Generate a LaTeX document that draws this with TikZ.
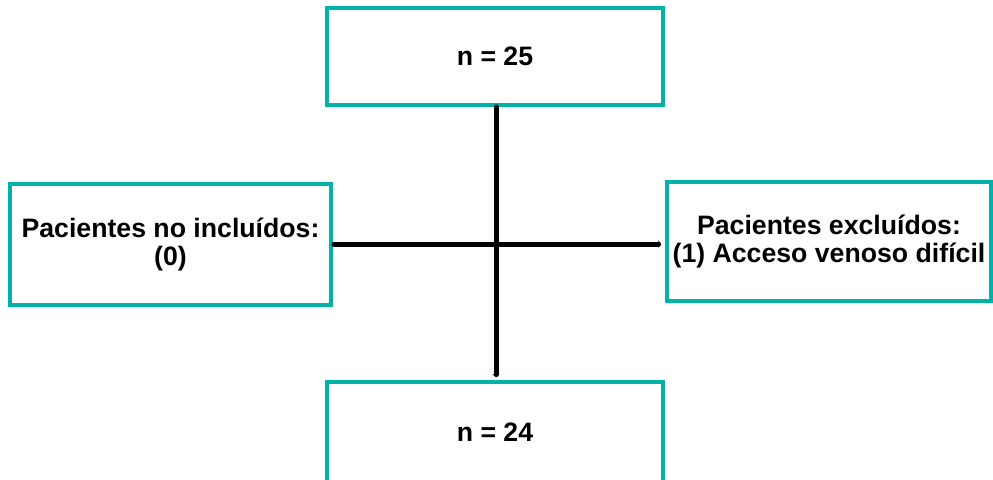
\documentclass[tikz,border=0pt]{standalone}
\usepackage{fontspec}
\setmainfont{Liberation Sans}
\usetikzlibrary{arrows.meta}

\definecolor{tealbox}{RGB}{0,178,169}

\tikzset{
  cajon/.style={draw=tealbox, line width=3pt, fill=white, inner sep=0pt,
    align=center, font=\bfseries\fontsize{20}{21}\selectfont},
  linea/.style={line width=3.75pt, line cap=round, -{Triangle[length=2pt,width=5.5pt]}}
}

\begin{document}
\begin{tikzpicture}[x=0.75pt,y=0.75pt,yscale=-1,xscale=1]
\useasboundingbox (0,0) rectangle (993,479);
\clip (0,0) rectangle (993,479);

% Boxes
\node [cajon, minimum width=252pt, minimum height=72.75pt] (total) at (495,56.5) {n = 25};
\node [cajon, minimum width=240.75pt, minimum height=90.75pt] (noincl) at (170.5,244) {Pacientes no incluídos:\\(0)};
\node [cajon, minimum width=243pt, minimum height=89.25pt] (excl) at (829,241.5) {Pacientes excluídos:\\(1) Acceso venoso difícil};
\node [cajon, minimum width=252pt, minimum height=75pt] (final) at (495,432) {n = 24};

% Connectors
\coordinate (cruce) at (496,244);
\draw [linea] (total.south -| cruce) -- ([yshift=-2.25pt]final.north -| cruce);
\draw [linea] ([xshift=0.75pt]noincl.east |- cruce) -- ([xshift=-3pt]excl.west |- cruce);

\end{tikzpicture}
\end{document}
